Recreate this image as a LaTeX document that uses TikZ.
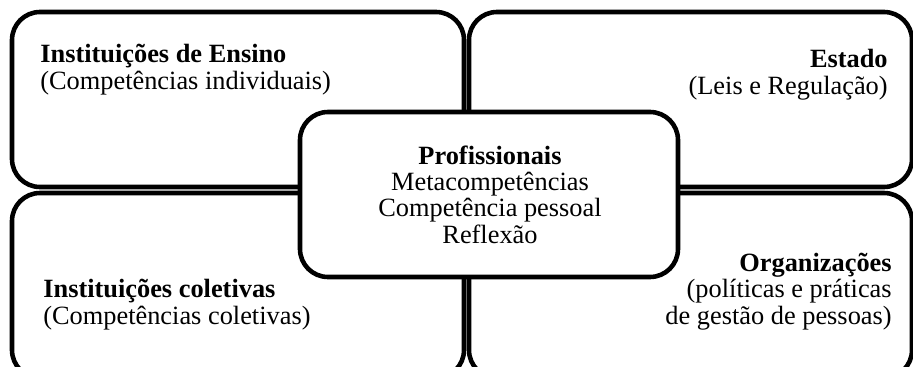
\documentclass[tikz,border=0pt]{standalone}
\usepackage{fontspec}
\setmainfont{Liberation Serif}
\usetikzlibrary{positioning}
\tikzset{
    normal/.style={draw, line width=2.6pt},
    q/.style={style=normal, rectangle, rounded corners=5.6mm, minimum width=90.4mm}, % quadrant boxes
    c/.style={style=normal, rectangle, rounded corners=5.6mm, fill=white, minimum width=75.6mm, minimum height=33mm}, % centre box
    t/.style={inner sep=0pt, font=\fontsize{15}{14.8}\selectfont} % texts, anchored at last baseline
}

\begin{document}
\begin{tikzpicture}[x=0.2mm, y=-0.2mm]
        \useasboundingbox (0,0) rectangle (913,367);
        \node[q, minimum height=35mm] (ensino) at (238, 99.5) {};
        \node[q, minimum height=35mm, minimum width=88.6mm] (estado) at (690.5, 99.5) {};
        \node[q, minimum height=37mm] (coletivas) at (238, 285.5) {};
        \node[q, minimum height=37mm, minimum width=88.6mm] (organizacoes) at (690.5, 285.5) {};
        \node[c] (profissionais) at (489, 194.5) {};

        \node[t, anchor=base west, align=left] (ensinot) at (40, 89)
        {\textbf{Instituições de Ensino}\\(Competências individuais)};
        \node[t, anchor=base east, align=right] (estadot) at (888, 94)
        {\textbf{Estado}\\(Leis e Regulação)};
        \node[t, anchor=base, align=center] (profissionaist) at (490, 243)
        {\textbf{Profissionais}\\Metacompetências\\Competência pessoal\\Reflexão};
        \node[t, anchor=base west, align=left] (coletivast) at (43, 324)
        {\textbf{Instituições coletivas}\\(Competências coletivas)};
        \node[t, anchor=base east, align=right] (organizacoest) at (892, 324)
        {\textbf{Organizações}\\(políticas e práticas\\de gestão de pessoas)};
\end{tikzpicture}
\end{document}
